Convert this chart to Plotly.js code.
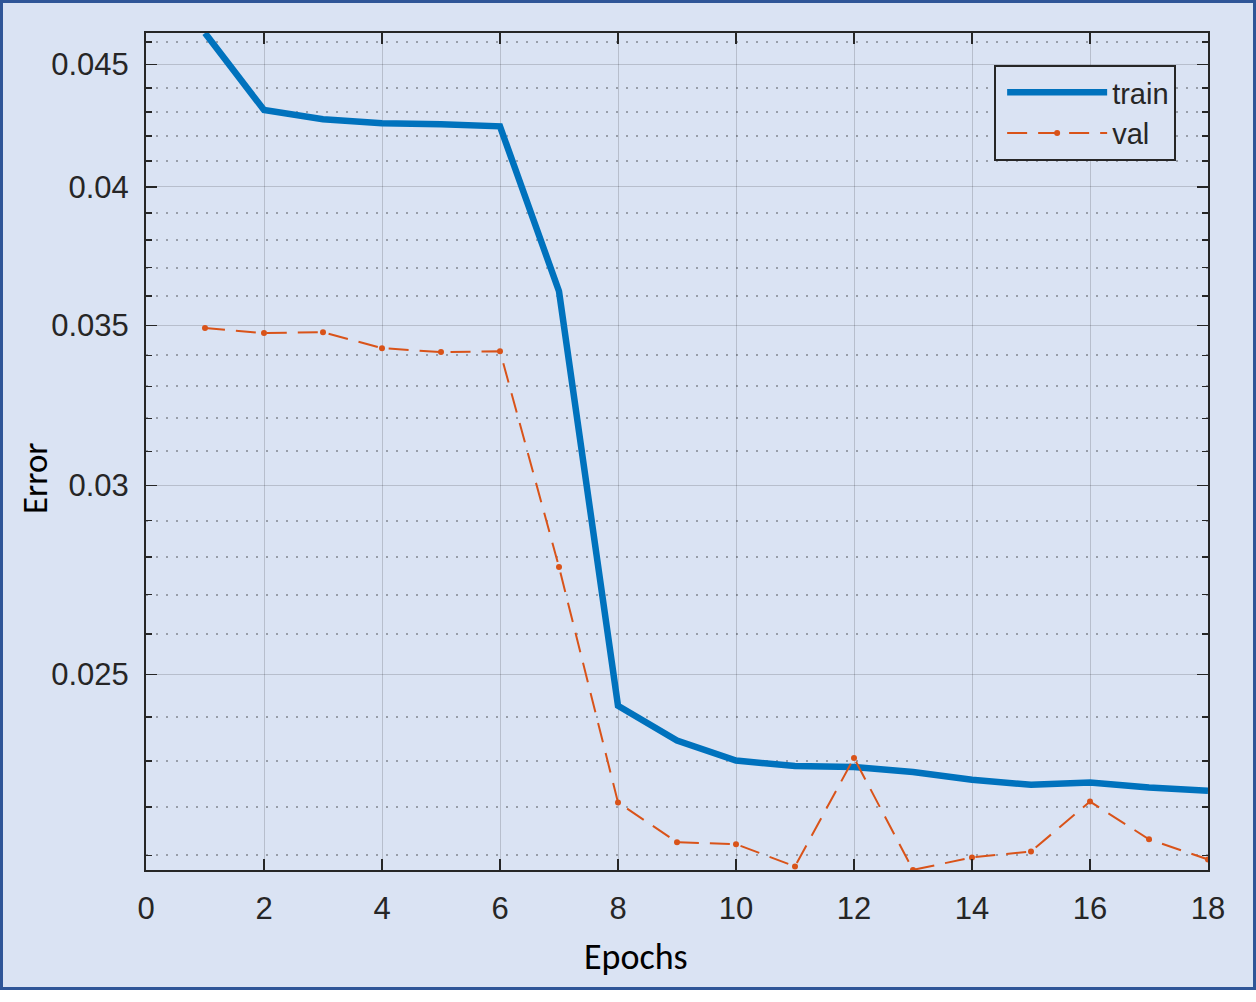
<!DOCTYPE html>
<html>
<head>
<meta charset="utf-8">
<script src="https://cdn.plot.ly/plotly-3.0.1.min.js"></script>
<style>
html,body{margin:0;padding:0;background:#ffffff;}
#frame{position:absolute;left:0;top:0;width:1256px;height:990px;box-sizing:border-box;border:3px solid #2F5597;background:#DAE3F3;}
#chart{position:absolute;left:0;top:0;width:1256px;height:1002px;}
</style>
</head>
<body>
<div id="frame"></div>
<div id="chart"></div>
<script>
const epochs = [1,2,3,4,5,6,7,8,9,10,11,12,13,14,15,16,17,18];
const trainError = [0.04639,0.04307,0.04269,0.04253,0.04249,0.04240,0.03617,0.02426,0.02346,0.02301,0.02289,0.02287,0.02276,0.02259,0.02248,0.02253,0.02242,0.02235];
const valError = [0.03491,0.03474,0.03477,0.03424,0.03411,0.03414,0.02773,0.02210,0.02127,0.02123,0.02078,0.02307,0.02071,0.02096,0.02108,0.02212,0.02133,0.02092];
const yTickVals = [0.025,0.03,0.035,0.04,0.045];
const yTickText = ['0.025','0.03','0.035','0.04','0.045'];
const yMinorVals = [0.021,0.022,0.023,0.024,0.026,0.027,0.028,0.029,0.031,0.032,0.033,0.034,0.036,0.037,0.038,0.039,0.041,0.042,0.043,0.044,0.046];
const seriesNames = ['train','val'];

const axisColor = '#262626';
const tickFont = {family:'"Liberation Sans", Arial, sans-serif', size:31, color:'#262626'};

const traces = [
  {x:epochs, y:trainError, name:seriesNames[0], type:'scatter', mode:'lines',
   line:{color:'#0072BD', width:6.5}},
  {x:epochs, y:valError, name:seriesNames[1], type:'scatter', mode:'lines+markers',
   line:{color:'#D95319', width:2, dash:'20px,11px'}, marker:{color:'#D95319', size:6}}
];

const layout = {
  width:1256, height:1002,
  margin:{l:146, r:48, t:33, b:132},
  paper_bgcolor:'rgba(0,0,0,0)',
  plot_bgcolor:'rgba(0,0,0,0)',
  showlegend:true,
  xaxis:{
    range:[0,18], dtick:2, tick0:0,
    ticks:'inside', ticklen:11, tickwidth:1.5, tickcolor:axisColor,
    showline:true, linecolor:axisColor, linewidth:2, mirror:'ticks',
    showgrid:true, gridcolor:'rgba(0,0,0,0.16)', gridwidth:1,
    zeroline:false, tickfont:tickFont, ticklabelstandoff:10
  },
  yaxis:{
    type:'log',
    range:[Math.log10(0.020708), Math.log10(0.04639)],
    tickmode:'array', tickvals:yTickVals, ticktext:yTickText,
    ticks:'inside', ticklen:11, tickwidth:1.5, tickcolor:axisColor,
    showline:true, linecolor:axisColor, linewidth:2, mirror:'ticks',
    showgrid:true, gridcolor:'rgba(0,0,0,0.16)', gridwidth:1,
    zeroline:false, tickfont:tickFont, ticklabelstandoff:9,
    minor:{tickmode:'array', tickvals:yMinorVals, ticks:'inside', ticklen:6, tickwidth:1.5, tickcolor:axisColor,
           showgrid:true, gridcolor:'rgba(0,0,0,0.3)', gridwidth:2, griddash:'2px,8px'}
  },
  legend:{
    x:0.970, xanchor:'right', y:0.9618, yanchor:'top',
    bgcolor:'#DAE3F3', bordercolor:axisColor, borderwidth:2,
    font:{family:'"Liberation Sans", Arial, sans-serif', size:29, color:'#262626'},
    itemwidth:100, tracegroupgap:0, indentation:6
  },
  annotations:[
    {text:'Epochs', xref:'paper', yref:'paper', x:0.4614, y:-0.1039, xanchor:'center', yanchor:'middle',
     showarrow:false, font:{family:'Carlito, Calibri, Lato, sans-serif', size:36, color:'#000000'}},
    {text:'Error', xref:'paper', yref:'paper', x:-0.1045, y:0.4683, xanchor:'center', yanchor:'middle',
     textangle:-90, showarrow:false, font:{family:'Carlito, Calibri, Lato, sans-serif', size:35, color:'#000000'}}
  ]
};

Plotly.newPlot('chart', traces, layout, {displayModeBar:false, staticPlot:true});
</script>
</body>
</html>
